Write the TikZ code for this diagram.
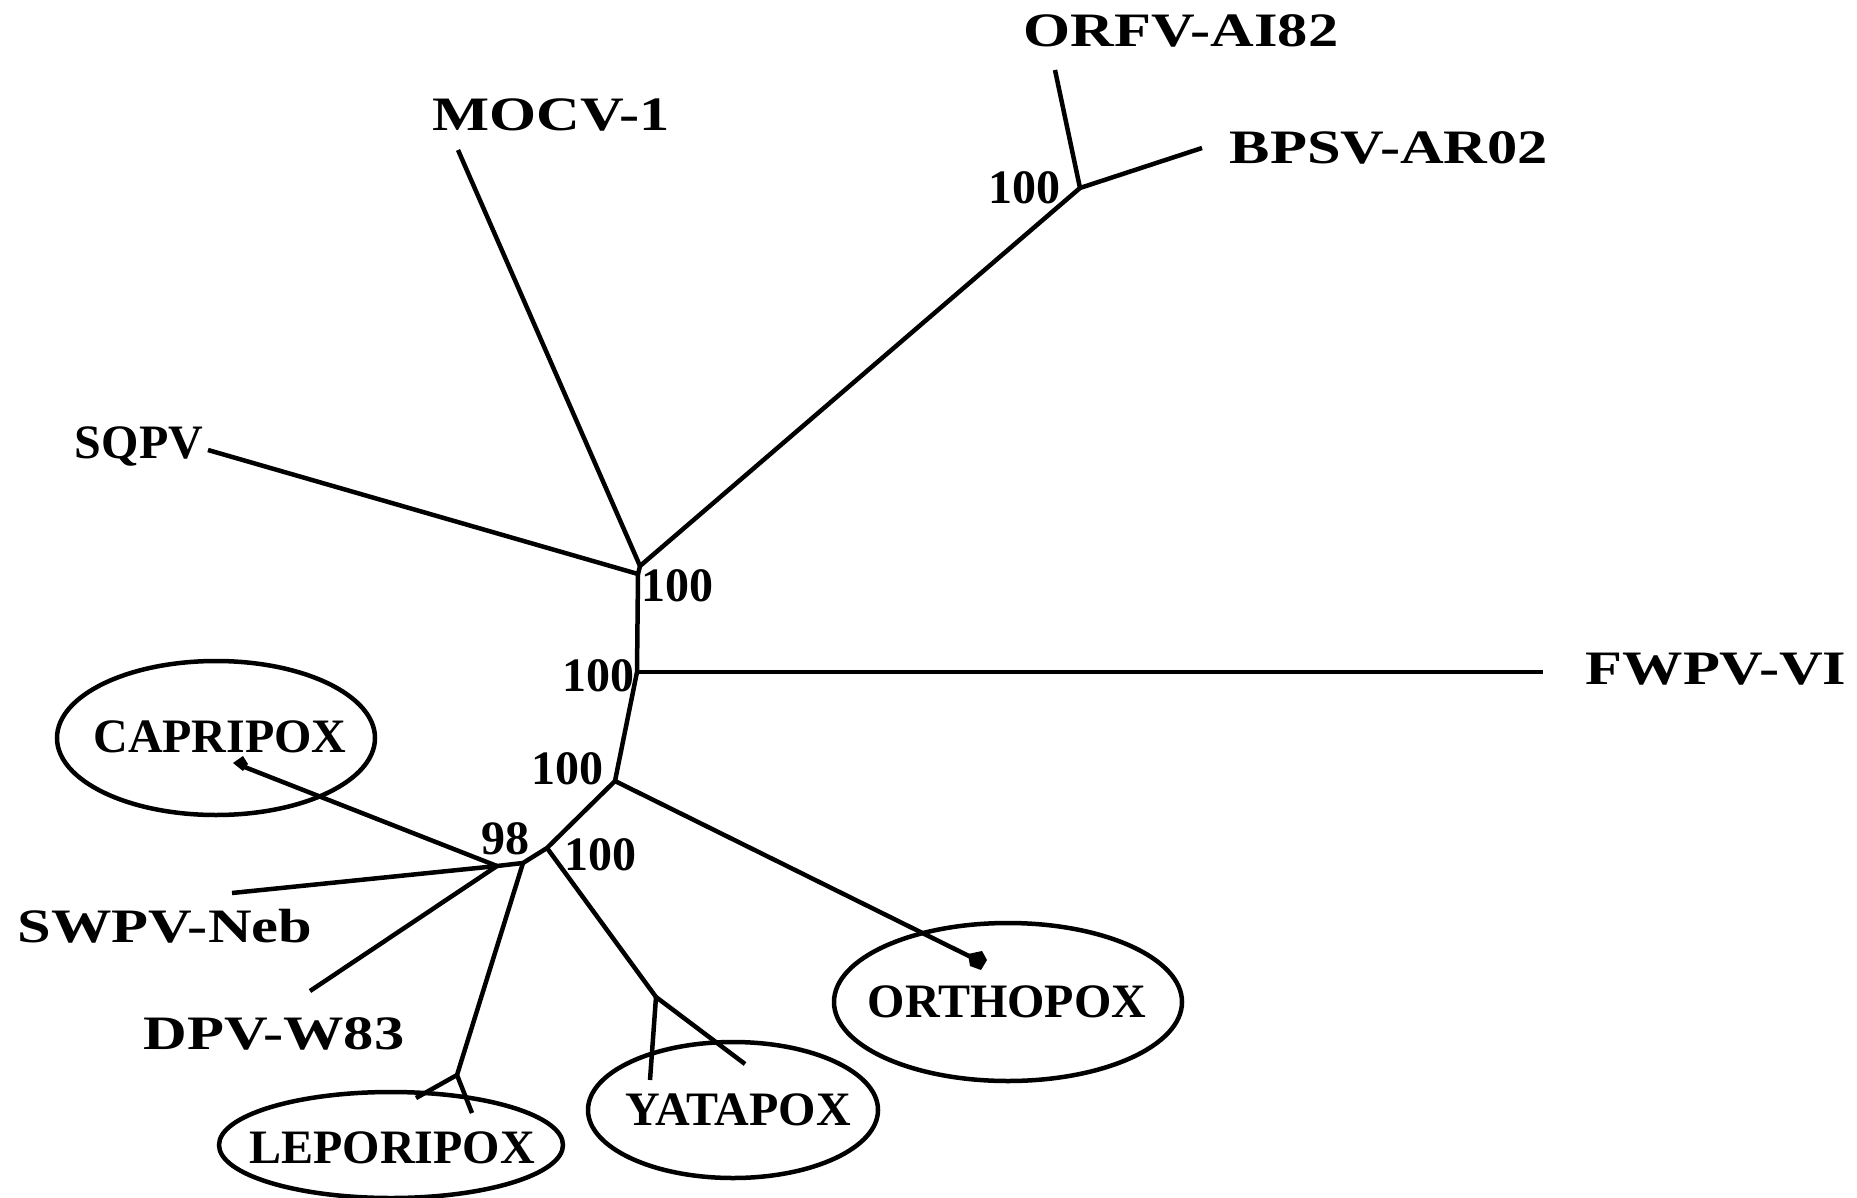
\documentclass[tikz,border=0pt]{standalone}
\usepackage{fontspec}
\setmainfont{Liberation Serif}
\usetikzlibrary{shapes.geometric,arrows.meta}
\newcommand\stretchlab[1]{\scalebox{1.26}[1]{#1}}
\tikzset{
  edge/.style={line width=4.5pt, line join=round},
  lab/.style={font=\fontsize{48}{56}\selectfont\bfseries, inner sep=0pt, text=black},
  grp/.style={ellipse, draw, line width=4.5pt, inner sep=0pt}
}
\begin{document}
\begin{tikzpicture}[x=1pt,y=-1pt]
\useasboundingbox (0,0) rectangle (1857,1198);
% internal junctions
\coordinate (A) at (640,566);
\coordinate (A2) at (638,574);
\coordinate (B) at (637,672);
\coordinate (C) at (615,781);
\coordinate (D) at (547,848);
\coordinate (E) at (523,863);
\coordinate (F) at (497,866);
\coordinate (G) at (1080,188);
\coordinate (L) at (457,1075);
\coordinate (Y) at (656,997);
% leaf ends
\coordinate (orfv) at (1055,70);
\coordinate (bpsv) at (1202,148);
\coordinate (mocv) at (458,150);
\coordinate (sqpv) at (208,450);
\coordinate (fwpv) at (1543,672);
\coordinate (capri) at (242,766);
\coordinate (swpv) at (232,893);
\coordinate (dpv) at (310,991);
\coordinate (lepA) at (416,1098);
\coordinate (lepB) at (472,1113);
\coordinate (yatA) at (650,1080);
\coordinate (yatB) at (745,1064);
\coordinate (ortho) at (977,960);

% group ellipses
\node[grp, minimum width=318pt, minimum height=154pt] (capriE) at (216,738) {};
\node[grp, minimum width=344pt, minimum height=106pt] (lepE) at (391,1145) {};
\node[grp, minimum width=290pt, minimum height=136pt] (yatE) at (733,1110) {};
\node[grp, minimum width=348pt, minimum height=158pt] (orthoE) at (1008,1002) {};

% backbone
\draw[edge] (G) -- (A) -- (A2) -- (B) -- (C) -- (D) -- (E) -- (F);
% branches
\draw[edge] (G) -- (orfv);
\draw[edge] (G) -- (bpsv);
\draw[edge] (A) -- (mocv);
\draw[edge] (A2) -- (sqpv);
\draw[edge] (B) -- (fwpv);
\draw[edge] (C) -- (ortho);
\draw[edge] (F) -- (capri);
\draw[edge] (F) -- (swpv);
\draw[edge] (F) -- (dpv);
\draw[edge] (E) -- (L);
\draw[edge] (L) -- (lepA);
\draw[edge] (L) -- (lepB);
\draw[edge] (D) -- (Y);
\draw[edge] (Y) -- (yatA);
\draw[edge] (Y) -- (yatB);
% collapsed-subtree marks
\fill[black] (capri) ++(-9,-3) -- ++(10,-7) -- ++(5,8) -- ++(-5,7) -- cycle;
\fill[black] (ortho) ++(-9,-6) -- ++(14,-3) -- ++(5,9) -- ++(-6,10) -- ++(-11,-4) -- cycle;

% leaf labels
\node[lab] (t-orfv) at (1181,31) {\stretchlab{ORFV-AI82}};
\node[lab] (t-bpsv) at (1389,148) {\stretchlab{BPSV-AR02}};
\node[lab] (t-mocv) at (551,115) {\stretchlab{MOCV-1}};
\node[lab] (t-sqpv) at (139,446) {SQPV};
\node[lab] (t-fwpv) at (1716,669) {\stretchlab{FWPV-VI}};
\node[lab] (t-swpv) at (165,926) {\stretchlab{SWPV-Neb}};
\node[lab] (t-dpv) at (274,1034) {\stretchlab{DPV-W83}};
% group labels
\node[lab] (t-capri) at (220,737) {CAPRIPOX};
\node[lab] (t-lep) at (392,1148) {LEPORIPOX};
\node[lab] (t-yat) at (738,1110) {YATAPOX};
\node[lab] (t-ortho) at (1007,1002) {ORTHOPOX};

% bootstrap values
\node[lab] (bs1) at (1024,188) {100};
\node[lab] (bs2) at (677,586) {100};
\node[lab] (bs3) at (598,676) {100};
\node[lab] (bs4) at (567,769) {100};
\node[lab] (bs5) at (505,839) {98};
\node[lab] (bs6) at (600,855) {100};
\end{tikzpicture}
\end{document}
